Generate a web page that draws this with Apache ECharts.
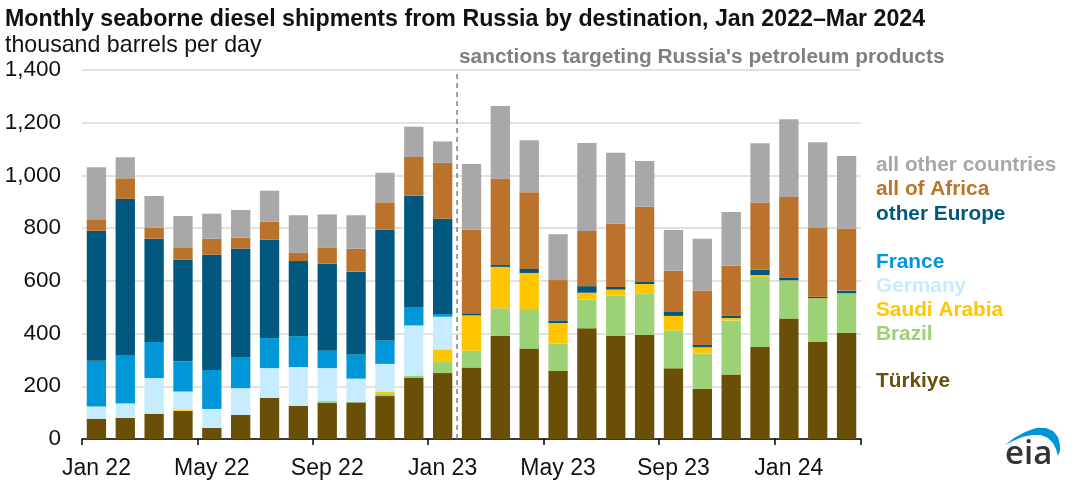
<!DOCTYPE html>
<html><head><meta charset="utf-8">
<script src="https://cdn.jsdelivr.net/npm/echarts@6/dist/echarts.min.js"></script>
<style>html,body{margin:0;padding:0;background:#fff}#c{width:1080px;height:486px}</style>
</head><body><div id="c"></div>
<script>
const categories = ['Jan 22','Feb 22','Mar 22','Apr 22','May 22','Jun 22','Jul 22','Aug 22','Sep 22','Oct 22','Nov 22','Dec 22','Jan 23','Feb 23','Mar 23','Apr 23','May 23','Jun 23','Jul 23','Aug 23','Sep 23','Oct 23','Nov 23','Dec 23','Jan 24','Feb 24','Mar 24'];
const turkiye = [77,80,96,107,42,91,156,126,137,139,163,233,250,271,391,343,258,420,391,395,268,190,245,349,457,368,402];
const brazil = [0,0,0,0,0,0,0,0,7,1,8,8,42,64,105,150,104,109,153,156,144,134,205,266,144,164,151];
const saudiArabia = [0,0,0,4,0,0,0,0,0,0,9,0,48,134,157,137,78,26,23,37,55,24,9,7,1,2,0];
const germany = [46,55,135,69,72,102,113,147,125,89,105,190,124,0,0,0,0,0,0,0,0,0,0,0,0,0,0];
const france = [174,184,137,115,148,118,114,117,66,92,89,70,10,0,0,0,0,0,0,0,0,0,0,0,0,0,0];
const otherEurope = [493,592,392,385,437,412,373,285,330,314,421,422,362,8,7,15,10,25,10,8,15,9,8,20,11,6,10];
const allAfrica = [41,78,42,47,61,41,69,31,60,87,103,147,212,317,328,291,153,209,240,285,157,206,191,255,305,262,236];
const allOther = [200,80,120,119,95,105,117,143,127,127,112,115,81,249,275,197,174,334,269,174,154,197,203,225,295,324,275];
const yTicks = {min:0,max:1400,interval:200};
const sanctionsLine = [[13,0],[13,1400]];
const font = '"Liberation Sans", Arial, sans-serif';
const stacks = [
  ['Türkiye',turkiye,'#6A5007',381],
  ['Brazil',brazil,'#9DD175',334],
  ['Saudi Arabia',saudiArabia,'#FFC600',310],
  ['Germany',germany,'#C7ECFF',286],
  ['France',france,'#0096D7',262],
  ['other Europe',otherEurope,'#00587F',214],
  ['all of Africa',allAfrica,'#BB732B',189],
  ['all other countries',allOther,'#A8A8A8',165]
];
const txt = (x,y,text,size,color,weight) => ({type:'text',x,y,silent:true,style:{text,fill:color,font:`${weight} ${size}px ${font}`,textVerticalAlign:'middle'}});
const chart = echarts.init(document.getElementById('c'),null,{renderer:'canvas'});
chart.setOption({
  animation:false,
  backgroundColor:'#fff',
  grid:{left:82,top:70,width:779,height:369,containLabel:false},
  xAxis:[{
    type:'category',data:categories,
    axisLine:{lineStyle:{color:'#000',width:1.5}},
    axisTick:{show:true,interval:3,length:6,lineStyle:{color:'#000',width:1.5},alignWithLabel:false},
    axisLabel:{interval:3,color:'#111',fontFamily:font,fontSize:23,margin:18},
    splitLine:{show:false}
  },{
    type:'value',show:false,min:0,max:27
  }],
  yAxis:{
    type:'value',min:yTicks.min,max:yTicks.max,interval:yTicks.interval,
    axisLine:{show:false},axisTick:{show:false},
    axisLabel:{color:'#111',fontFamily:font,fontSize:22.5,margin:21,padding:[4,0,0,0],formatter:v=>v.toLocaleString('en-US')},
    splitLine:{lineStyle:{color:'#D9D9D9',width:1.5}}
  },
  series:[
    ...stacks.map(([name,data,color])=>({
      name,type:'bar',stack:'t',data,barWidth:'67%',itemStyle:{color},silent:true
    })),
    {type:'line',xAxisIndex:1,data:sanctionsLine,showSymbol:false,silent:true,z:5,
     lineStyle:{color:'#7F7F7F',width:1.5,type:[5,4]}}
  ],
  graphic:[
    txt(5,20,'Monthly seaborne diesel shipments from Russia by destination, Jan 2022–Mar 2024',23.2,'#111','bold'),
    txt(5,46,'thousand barrels per day',23.2,'#111','normal'),
    txt(459,57,"sanctions targeting Russia's petroleum products",20.9,'#7F7F7F','bold'),
    ...stacks.map(([name,,color,y])=>txt(876,y,name,20.8,color,'bold')),
    {type:'polygon',silent:true,shape:{points:[[1005,445],[1014,438],[1025,432],[1036,428],[1046,428],[1053,431],[1058,437],[1060,445],[1060,451],[1058,456],[1056,449],[1053,443],[1048,438],[1041,435],[1032,435],[1022,437],[1013,441]]},style:{fill:'#0096D7'}},
    {type:'text',x:1005,y:455,silent:true,style:{text:'eia',fill:'#333',font:`600 33px "Open Sans", ${font}`,textVerticalAlign:'middle'}}
  ]
});
</script></body></html>
